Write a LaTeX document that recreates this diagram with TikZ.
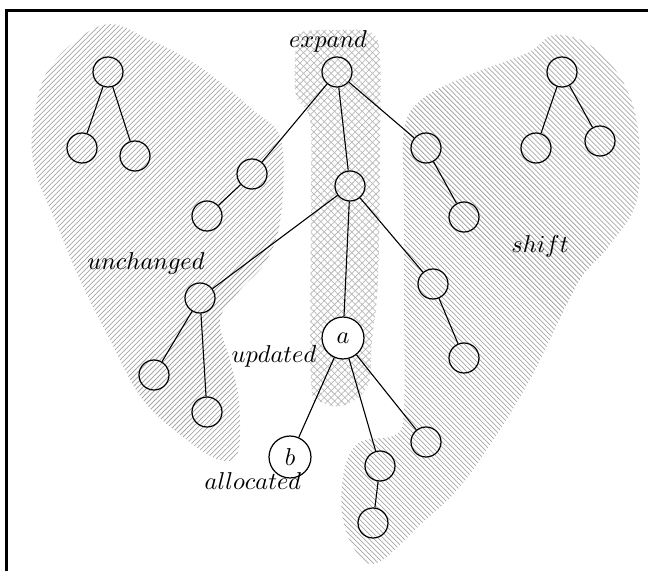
\documentclass[tikz,border=0pt]{standalone}
\usetikzlibrary{patterns.meta}
\begin{document}
\begin{tikzpicture}[x=0.41pt,y=-0.41pt,
  nd/.style={circle,draw,line width=0.5pt,minimum size=12.3pt,inner sep=0pt},
  big/.style={nd,minimum size=17.2pt,fill=white},
  lbl/.style={inner sep=0pt},
  edge/.style={line width=0.45pt},
  hatchL/.style={pattern={Lines[angle=45,distance=1.45pt,line width=0.3pt]},pattern color=gray!70},
  hatchR/.style={pattern={Lines[angle=-45,distance=1.45pt,line width=0.3pt]},pattern color=gray!70},
  crossA/.style={pattern={Lines[angle=45,distance=2pt,line width=0.3pt]},pattern color=gray!55},
  crossB/.style={pattern={Lines[angle=-45,distance=2pt,line width=0.3pt]},pattern color=gray!55},
  frame/.style={line width=1.2pt}]
\useasboundingbox (0,0) rectangle (648,570);
\clip (0,0) rectangle (648,570);

% hatched regions
\fill[hatchL] plot[smooth cycle,tension=0.6] coordinates {
  (33,125) (50,67) (103,25) (150,40) (200,67) (253,110) (281,140) (281,215)
  (267,260) (240,290) (220,320) (230,360) (239,400) (238,452) (220,460)
  (187,440) (143,400) (110,340) (80,280) (55,220) (35,170)};
\fill[hatchR] plot[smooth cycle,tension=0.6] coordinates {
  (404,130) (421,100) (464,77) (527,53) (554,35) (590,45) (622,80) (638,130)
  (637,200) (610,245) (577,285) (527,385) (467,478) (420,525) (377,563)
  (355,550) (342,513) (345,467) (360,442) (395,435) (404,410) (404,300) (404,200)};
\foreach \s in {crossA,crossB}{
  \fill[\s] plot[smooth cycle,tension=0.6] coordinates {
    (296,45) (302,32) (340,30) (372,33) (380,60) (380,150) (378,280) (372,340)
    (368,385) (345,405) (322,402) (311,380) (311,200) (310,120) (296,95)};
}

% frame
\draw[frame] (6.5,10.5) rectangle (700,700);

% nodes
\node[nd] (r) at (337,72) {};
\node[nd] (r1) at (252,174) {};
\node[nd] (r1a) at (207,216) {};
\node[nd] (m) at (350,186) {};
\node[nd] (r3) at (426,148) {};
\node[nd] (r3a) at (464,217) {};
\node[nd] (L) at (108,72) {};
\node[nd] (La) at (82,148) {};
\node[nd] (Lb) at (135,156) {};
\node[nd] (R) at (562,72) {};
\node[nd] (Ra) at (536,148) {};
\node[nd] (Rb) at (600,141) {};
\node[nd] (m1) at (200,298) {};
\node[nd] (m1a) at (154,375) {};
\node[nd] (m1b) at (207,412) {};
\node[big] (a) at (343,338) {$a$};
\node[nd] (m3) at (433,284) {};
\node[nd] (m3a) at (464,358) {};
\node[nd] (a2) at (380,466) {};
\node[nd] (a2a) at (373,523) {};
\node[nd] (a3) at (426,442) {};

% edges
\draw[edge] (r) -- (r1) (r1) -- (r1a) (r) -- (m) (r) -- (r3) (r3) -- (r3a)
  (L) -- (La) (L) -- (Lb) (R) -- (Ra) (R) -- (Rb)
  (m) -- (m1) (m1) -- (m1a) (m1) -- (m1b) (m) -- (a) (m) -- (m3) (m3) -- (m3a)
  (a) -- (a2) (a2) -- (a2a) (a) -- (a3);

% labels
\node[lbl] (lexp) at (328,41.5) {$expand$};
\node[lbl] (lunc) at (146,263) {$unchanged$};
\node[lbl] (lsh) at (540,246) {$shift$};
\node[lbl] (lupd) at (274,356) {$updated$};
\node[big] (b) at (290,457) {$b$};
\draw[edge] (a) -- (b);
\node[lbl] (lall) at (253,481) {$allocated$};
\end{tikzpicture}
\end{document}
